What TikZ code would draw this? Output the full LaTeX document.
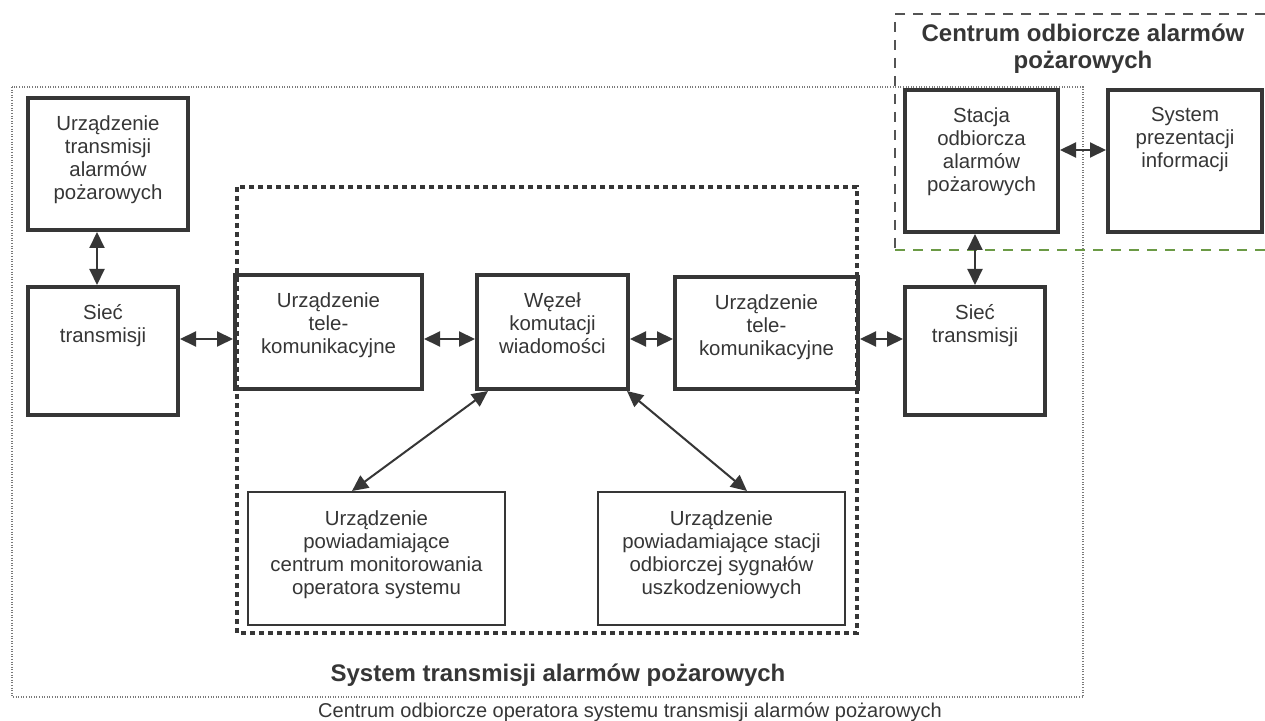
\documentclass[tikz,border=0pt]{standalone}
\usepackage{fontspec}
\setmainfont{Liberation Sans}
\usetikzlibrary{arrows.meta,calc}

\definecolor{ink}{HTML}{363636}
\definecolor{dotgray}{HTML}{7A7A7A}
\definecolor{dashgreen}{HTML}{6B9A45}

\begin{document}
\begin{tikzpicture}[x=0.5pt,y=-0.5pt]
  % some styles
  \tikzset{
    box/.style={draw=ink, line width=2pt, inner sep=0pt},
    thinbox/.style={draw=ink, line width=1pt, inner sep=0pt},
    txt/.style={anchor=north, inner sep=0pt, yshift=-9.5pt, align=center,
      text=ink, font=\fontsize{10.2}{11.5}\selectfont},
    link/.style={draw=ink, line width=1pt,
      {Triangle[length=8pt,width=7.5pt]}-{Triangle[length=8pt,width=7.5pt]}},
    headline/.style={text=ink, align=center, font=\fontsize{12}{13.5}\selectfont\bfseries}
  }

\path[use as bounding box, fill=white] (0,0) rectangle (1265,721);

% frames
\draw[dotgray, line width=0.6pt, dash pattern=on 0.5pt off 0.8pt] (12,87) rectangle (1083,697);
\draw[ink, line width=2.4pt, dash pattern=on 2.3pt off 2.2pt] (237,187) rectangle (857,633);
\draw[ink!85, line width=1pt, dash pattern=on 5pt off 4pt] (1265,14) -- (895,14) -- (895,250);
\draw[dashgreen, line width=1pt, dash pattern=on 5pt off 4pt] (895,250) -- (1265,250);

% boxes
\node[box, minimum width=80pt, minimum height=66pt,
  label={[txt]north:{Urządzenie\\transmisji\\alarmów\\pożarowych}}] (uta) at (108,164) {};
\node[box, minimum width=75pt, minimum height=64pt,
  label={[txt]north:{Sieć\\transmisji}}] (st) at (103,351) {};
\node[box, minimum width=93.5pt, minimum height=57pt,
  label={[txt]north:{Urządzenie\\tele-\\komunikacyjne}}] (tl1) at (328.5,332) {};
\node[box, minimum width=75.5pt, minimum height=57pt,
  label={[txt]north:{Węzeł\\komutacji\\wiadomości}}] (wk) at (552.5,332) {};
\node[box, minimum width=91.5pt, minimum height=56pt,
  label={[txt]north:{Urządzenie\\tele-\\komunikacyjne}}] (tl2) at (766.5,333) {};
\node[box, minimum width=70pt, minimum height=64pt,
  label={[txt]north:{Sieć\\transmisji}}] (st2) at (975,351) {};
\node[box, minimum width=76.5pt, minimum height=71pt,
  label={[txt]north:{Stacja\\odbiorcza\\alarmów\\pożarowych}}] (so) at (981.5,161) {};
\node[box, minimum width=77pt, minimum height=71pt,
  label={[txt]north:{System\\prezentacji\\informacji}}] (sp) at (1185,161) {};
\node[thinbox, minimum width=128.5pt, minimum height=66.5pt,
  label={[txt]north:{Urządzenie\\powiadamiające\\centrum monitorowania\\operatora systemu}}] (pm) at (376.5,558.5) {};
\node[thinbox, minimum width=123.5pt, minimum height=66.5pt,
  label={[txt]north:{Urządzenie\\powiadamiające stacji\\odbiorczej sygnałów\\uszkodzeniowych}}] (pu) at (721.5,558.5) {};

% captions
\node[headline] (capcentrum) at (1083,49) {Centrum odbiorcze alarmów\\pożarowych};
\node[headline] (capsystem) at (558,675) {System transmisji alarmów pożarowych};
\node[text=ink, font=\fontsize{10}{12}\selectfont] (capoperator) at (630,712)
  {Centrum odbiorcze operatora systemu transmisji alarmów pożarowych};

% arrows
\coordinate (row) at (0,339);
\coordinate (toprow) at (0,150);
\coordinate (stin) at ($(st.north)+(-6,0)$);
\draw[link] (stin |- uta.south) -- (stin);
\draw[link] (st.east |- row) -- (tl1.west |- row);
\draw[link] (tl1.east |- row) -- (wk.west |- row);
\draw[link] (wk.east |- row) -- (tl2.west |- row);
\draw[link] (tl2.east |- row) -- (st2.west |- row);
\draw[link] (st2.north) -- (so.south -| st2.north);
\draw[link] (so.east |- toprow) -- (sp.west |- toprow);
\draw[link] ($(wk.south west)+(13,0)$) -- ($(pm.north west)+(105,0)$);
\draw[link] ($(wk.south east)+(-3,0)$) -- ($(pu.north west)+(150,0)$);

\end{tikzpicture}
\end{document}
